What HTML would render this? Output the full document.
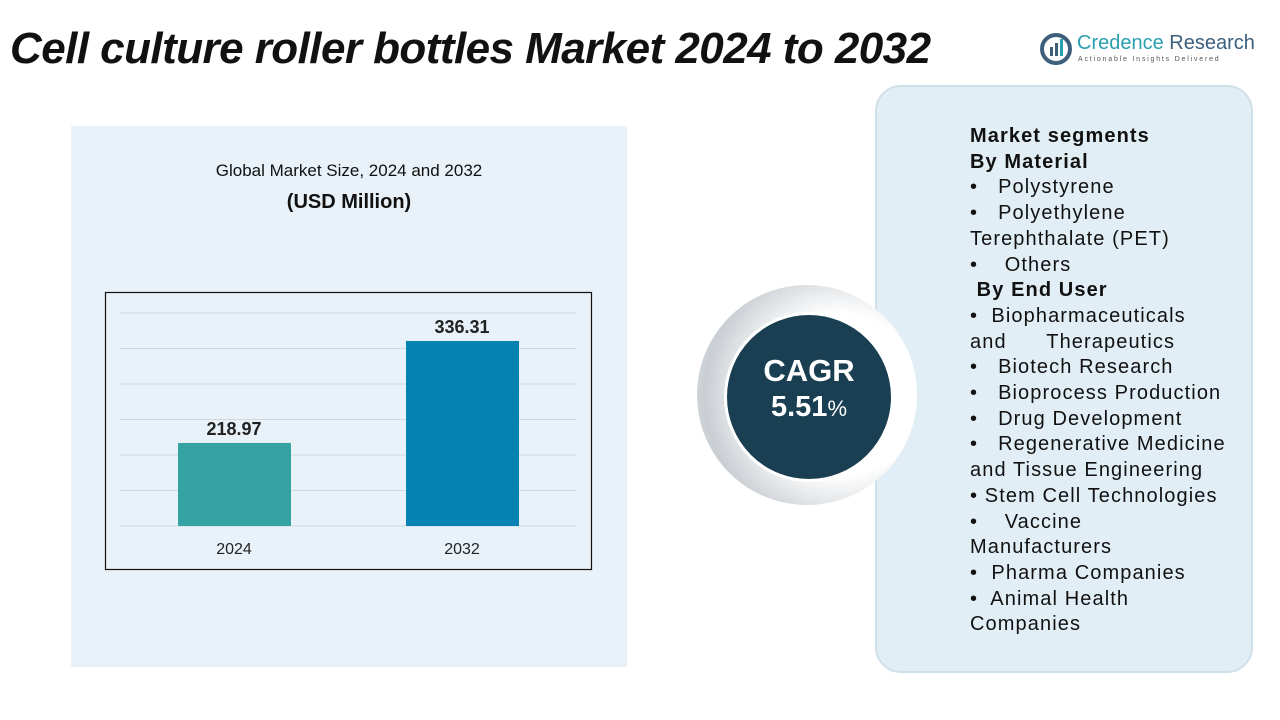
<!DOCTYPE html>
<html><head><meta charset="utf-8">
<style>
body{margin:0;width:1280px;height:720px;overflow:hidden;background:#fff;font-family:"Liberation Sans",sans-serif;position:relative}
.abs{position:absolute}
#title{left:10px;top:24px;font-size:44px;font-weight:bold;font-style:italic;color:#111;letter-spacing:-0.55px;white-space:nowrap}
#panel{left:71px;top:126px;width:556px;height:541px;background:#e9f2f8}
#side{left:875px;top:85px;width:378px;height:588px;background:#e2eef5;border:2px solid #cfe0ea;border-radius:26px;box-sizing:border-box}
#seg{left:970px;top:124px;font-size:20px;letter-spacing:1.1px;line-height:25.7px;color:#111;white-space:pre}
</style></head><body>
<div class="abs" id="title">Cell culture roller bottles Market 2024 to 2032</div>
<div class="abs" style="left:1040px;top:32px;width:215px;height:35px">
 <svg width="34" height="34" class="abs" style="left:0;top:0"><circle cx="16" cy="17" r="14" fill="none" stroke="#3d5f7c" stroke-width="4"/><rect x="10" y="15" width="3" height="9" fill="#3d5f7c"/><rect x="15" y="11" width="3" height="13" fill="#3d5f7c"/><rect x="20" y="7" width="3" height="17" fill="#2a9fb0"/></svg>
 <div class="abs" style="left:37px;top:0;font-size:20px;color:#2a9fb0;white-space:nowrap">Credence <span style="color:#3d5f7c">Research</span></div>
 <div class="abs" style="left:38px;top:24px;font-size:7px;letter-spacing:1.8px;color:#555;white-space:nowrap">Actionable Insights Delivered</div>
</div>
<div class="abs" id="panel"></div>
<div class="abs" style="left:71px;width:556px;top:161px;text-align:center;font-size:17px;color:#111">Global Market Size, 2024 and 2032</div>
<div class="abs" style="left:71px;width:556px;top:191px;text-align:center;font-size:20px;font-weight:bold;color:#111">(USD Million)</div>
<svg class="abs" style="left:0;top:0" width="1280" height="720" id="chart">
 <rect x="105.5" y="292.5" width="486" height="277" fill="none" stroke="#111" stroke-width="1.2"/>
</svg>
<div class="abs" id="side"></div>
<div class="abs" style="left:697px;top:285px;width:220px;height:220px;border-radius:50%;background:radial-gradient(circle at 65% 50%,#fff 45%,#c9ced3 75%,#eceef0 100%)"></div>
<div class="abs" style="left:724px;top:312px;width:170px;height:170px;border-radius:50%;background:#1a3f52;border:3px solid #fff;box-sizing:border-box;color:#fff;text-align:center;font-weight:bold">
 <div style="margin-top:38px;font-size:31px">CAGR</div><div style="font-size:29px;margin-top:2px">5.51<span style="font-size:22px;font-weight:normal">%</span></div></div>
<div class="abs" id="seg"><b>Market segments
By Material</b>
•   Polystyrene
•   Polyethylene
Terephthalate (PET)
•    Others
<b> By End User</b>
•  Biopharmaceuticals
and      Therapeutics
•   Biotech Research
•   Bioprocess Production
•   Drug Development
•   Regenerative Medicine
and Tissue Engineering
• Stem Cell Technologies
•    Vaccine
Manufacturers
•  Pharma Companies
•  Animal Health
Companies</div>
<script>
const categories=["2024","2032"];
const values=[218.97,336.31];
const labels=["218.97","336.31"];
const colors=["#35a3a4","#0881b3"];
const svg=document.getElementById('chart');
const NS="http://www.w3.org/2000/svg";
const base=526,vMin=123.4,k=0.869;
function y(v){return base-(v-vMin)*k;}
function x(i){return 178+i*228;}
for(let g=0;g<7;g++){const l=document.createElementNS(NS,'line');
l.setAttribute('x1',120);l.setAttribute('x2',576);const yy=base-g*35.5;l.setAttribute('y1',yy);l.setAttribute('y2',yy);
l.setAttribute('stroke','#cfd8df');l.setAttribute('stroke-width',1);


svg.appendChild(l);}
categories.forEach((c,i)=>{
const r=document.createElementNS(NS,'rect');
r.setAttribute('x',x(i));r.setAttribute('width',113);r.setAttribute('y',y(values[i]));r.setAttribute('height',base-y(values[i]));r.setAttribute('fill',colors[i]);


svg.appendChild(r);
const t=document.createElementNS(NS,'text');
t.setAttribute('x',x(i)+56);t.setAttribute('y',y(values[i])-8);t.setAttribute('text-anchor','middle');t.setAttribute('font-size','18');t.setAttribute('font-weight','bold');t.setAttribute('fill','#222');t.setAttribute('font-family','Liberation Sans');
t.textContent=labels[i];


svg.appendChild(t);
const a=document.createElementNS(NS,'text');
a.setAttribute('x',x(i)+56);a.setAttribute('y',554);a.setAttribute('text-anchor','middle');a.setAttribute('font-size','16');a.setAttribute('fill','#222');a.setAttribute('font-family','Liberation Sans');
a.textContent=c;


svg.appendChild(a);
});
</script>
</body></html>
